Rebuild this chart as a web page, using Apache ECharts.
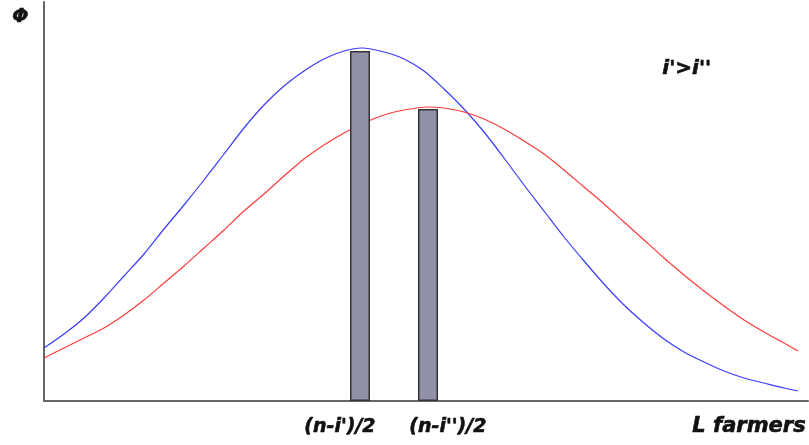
<!DOCTYPE html>
<html>
<head>
<meta charset="utf-8">
<script src="https://cdn.jsdelivr.net/npm/echarts@6/dist/echarts.min.js"></script>
<style>
html,body{margin:0;padding:0;background:#fff;}
#chart{width:809px;height:445px;}
</style>
</head>
<body>
<div id="chart"></div>
<script>
// Curve for i' (blue) : [L, Phi]
const blueCurve = [[0,53],[20,67],[40,83],[60,103],[80,125],[100,147],[120,172],[140,196],[160,221],[180,247],[200,273],[220,296],[240,315],[260,330],[280,342],[300,350],[318,353],[340,349],[360,342],[380,330],[400,312],[420,292],[440,269],[460,243],[480,216],[500,190],[520,164],[540,140],[560,117],[580,96],[600,78],[620,62],[640,49],[660,39],[680,30],[700,23],[720,18],[740,13],[754,10]];
// Curve for i'' (red)
const redCurve = [[0,43],[20,53],[40,63],[60,73],[80,86],[100,101],[120,118],[140,135],[160,153],[180,171],[200,190],[220,207],[240,225],[260,242],[280,256],[300,268],[320,278],[340,286],[360,291],[384,294],[400,293],[420,289],[440,282],[460,272],[480,260],[500,247],[520,231],[540,214],[560,197],[580,179],[600,161],[620,143],[640,126],[660,110],[680,95],[700,81],[720,69],[740,58],[754,50]];
// Bars at (n-i')/2 and (n-i'')/2
const barValues = [[316,350],[384,292]];
const xLabels = ["(n-i')/2", "(n-i'')/2"];
const xAxisTitle = "L farmers";
const yAxisTitle = "Φ";
const noteText = "i'>i''";

const chart = echarts.init(document.getElementById('chart'));
const txtStyle = {fontFamily:'DejaVu Sans', fontWeight:'bold', fontStyle:'italic', fontSize:19, fill:'#111', stroke:'#111', lineWidth:0.6};
chart.setOption({
  animation:false,
  backgroundColor:'#fff',
  grid:{left:44, right:1, top:2, bottom:44},
  xAxis:{type:'value', min:0, max:764,
    axisLine:{show:true, lineStyle:{color:'#666', width:2}},
    axisTick:{show:false}, axisLabel:{show:false}, splitLine:{show:false}},
  yAxis:{type:'value', min:0, max:399,
    axisLine:{show:true, lineStyle:{color:'#666', width:2}},
    axisTick:{show:false}, axisLabel:{show:false}, splitLine:{show:false}},
  series:[
    {type:'bar', data:barValues, barWidth:20, z:3,
      itemStyle:{color:'#9191a8', borderColor:'#333', borderWidth:1.5}},
    {type:'line', data:blueCurve, smooth:0.3, symbol:'none', z:2,
      lineStyle:{color:'#3a3aff', width:1.2}},
    {type:'line', data:redCurve, smooth:0.3, symbol:'none', z:2,
      lineStyle:{color:'#ff3a3a', width:1.2}}
  ],
  graphic:[
    {type:'text', left:304, top:417, style:Object.assign({text:xLabels[0]}, txtStyle)},
    {type:'text', left:409, top:417, style:Object.assign({text:xLabels[1]}, txtStyle)},
    {type:'text', left:692, top:416, style:Object.assign({}, txtStyle, {text:xAxisTitle, fontSize:21})},
    {type:'text', left:12, top:7, style:Object.assign({}, txtStyle, {text:yAxisTitle, fontSize:19})},
    {type:'text', left:662, top:58, style:Object.assign({}, txtStyle, {text:noteText, fontSize:20})}
  ]
});
</script>
</body>
</html>
